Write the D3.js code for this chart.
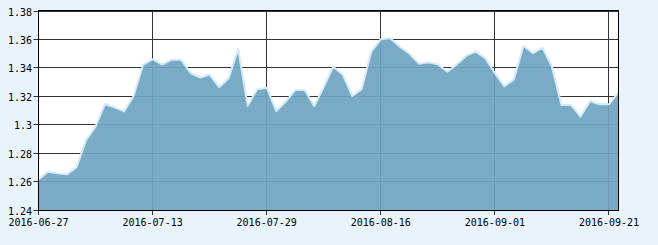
<!DOCTYPE html>
<html>
<head>
<meta charset="utf-8">
<script src="https://cdn.jsdelivr.net/npm/d3@7"></script>
<style>
body { margin: 0; background: #e8f3fb; }
#graph svg { display: block; }
</style>
</head>
<body>
<div id="graph"></div>
<script>
var dates = ["2016-06-27","2016-06-28","2016-06-29","2016-06-30","2016-07-01",
	"2016-07-04","2016-07-05","2016-07-06","2016-07-07","2016-07-08",
	"2016-07-11","2016-07-12","2016-07-13","2016-07-14","2016-07-15",
	"2016-07-18","2016-07-19","2016-07-20","2016-07-21","2016-07-22",
	"2016-07-25","2016-07-26","2016-07-27","2016-07-28","2016-07-29",
	"2016-08-01","2016-08-02","2016-08-03","2016-08-04","2016-08-05",
	"2016-08-08","2016-08-09","2016-08-10","2016-08-11","2016-08-12",
	"2016-08-15","2016-08-16","2016-08-17","2016-08-18","2016-08-19",
	"2016-08-22","2016-08-23","2016-08-24","2016-08-25","2016-08-26",
	"2016-08-29","2016-08-30","2016-08-31","2016-09-01","2016-09-02",
	"2016-09-05","2016-09-06","2016-09-07","2016-09-08","2016-09-09",
	"2016-09-12","2016-09-13","2016-09-14",
	"2016-09-19","2016-09-20","2016-09-21","2016-09-22"];

var values = [1.2615,1.2668,1.2657,1.2650,1.2700,
	1.2890,1.2985,1.3144,1.3120,1.3092,
	1.3200,1.3418,1.3458,1.3420,1.3455,
	1.3455,1.3360,1.3330,1.3350,1.3262,
	1.3325,1.3530,1.3132,1.3247,1.3258,
	1.3095,1.3160,1.3242,1.3242,1.3128,
	1.3265,1.3406,1.3350,1.3200,1.3250,
	1.3511,1.3598,1.3605,1.3546,1.3498,
	1.3427,1.3436,1.3422,1.3370,1.3422,
	1.3483,1.3511,1.3464,1.3360,1.3268,
	1.3317,1.3553,1.3500,1.3540,1.3406,
	1.3137,1.3137,1.3055,
	1.3165,1.3142,1.3142,1.3226];

var yTicks = [1.24,1.26,1.28,1.3,1.32,1.34,1.36,1.38];
var xTickIdx = [0,12,24,36,48,60];

var W = 658, H = 245;
var pLeft = 38.5, pRight = 618.5, pTop = 10.5, pBottom = 210;

function setup() {
	var svg = d3.select("#graph")
		.append("svg")
		.attr("width", W)
		.attr("height", H);
	svg.append("rect")
		.attr("width", W).attr("height", H)
		.attr("fill", "#e8f3fb");
	return svg;
}

function draw(svg) {
	var x = d3.scaleLinear().domain([0, values.length - 1]).range([pLeft, pRight]);
	var y = d3.scaleLinear().domain([1.24, 1.38]).range([pBottom, pTop]);

	// plot background
	svg.append("rect")
		.attr("x", pLeft).attr("y", pTop)
		.attr("width", pRight - pLeft).attr("height", pBottom - pTop)
		.attr("fill", "#ffffff");

	// grid
	var grid = svg.append("g");
	grid.selectAll("line.h")
		.data(yTicks)
		.enter()
		.append("line")
		.attr("class", "h")
		.attr("x1", pLeft - 5).attr("x2", pRight)
		.attr("y1", function(d) { return Math.round(y(d)) + 0.5; })
		.attr("y2", function(d) { return Math.round(y(d)) + 0.5; })
		.attr("stroke", "#333")
		.attr("stroke-width", 1);
	grid.selectAll("line.v")
		.data(xTickIdx)
		.enter()
		.append("line")
		.attr("class", "v")
		.attr("x1", function(d) { return Math.round(x(d) - 0.5) + 0.5; })
		.attr("x2", function(d) { return Math.round(x(d) - 0.5) + 0.5; })
		.attr("y1", pTop).attr("y2", pBottom + 5)
		.attr("stroke", "#333")
		.attr("stroke-width", 1);

	// area
	var area = d3.area()
		.x(function(d, i) { return x(i); })
		.y0(pBottom)
		.y1(function(d) { return y(d); });
	svg.append("path")
		.datum(values)
		.attr("d", area)
		.attr("fill", "#6fa5c2")
		.attr("fill-opacity", 0.93);

	var line = d3.line()
		.x(function(d, i) { return x(i); })
		.y(function(d) { return y(d); });
	svg.append("path")
		.datum(values)
		.attr("d", line)
		.attr("fill", "none")
		.attr("stroke", "#d4eaf7")
		.attr("stroke-width", 2)
		.attr("stroke-linejoin", "round");

	// frame
	svg.append("rect")
		.attr("x", pLeft).attr("y", pTop)
		.attr("width", pRight - pLeft).attr("height", Math.round(pBottom) + 0.5 - pTop)
		.attr("fill", "none")
		.attr("stroke", "#000")
		.attr("stroke-width", 1);

	// labels
	svg.selectAll("text.y")
		.data(yTicks)
		.enter()
		.append("text")
		.attr("class", "y")
		.attr("x", 32)
		.attr("y", function(d) { return Math.round(y(d)) + 4.5; })
		.attr("text-anchor", "end")
		.attr("font-family", "DejaVu Sans Mono, monospace")
		.attr("font-size", 10)
		.attr("fill", "#000")
		.text(function(d) { return String(+d.toFixed(2)); });

	svg.selectAll("text.x")
		.data(xTickIdx)
		.enter()
		.append("text")
		.attr("class", "x")
		.attr("x", function(d) { return x(d); })
		.attr("y", 226)
		.attr("text-anchor", "middle")
		.attr("font-family", "DejaVu Sans Mono, monospace")
		.attr("font-size", 10)
		.attr("fill", "#000")
		.text(function(d) { return dates[d]; });
}

var svg = setup();
draw(svg);
</script>
</body>
</html>
